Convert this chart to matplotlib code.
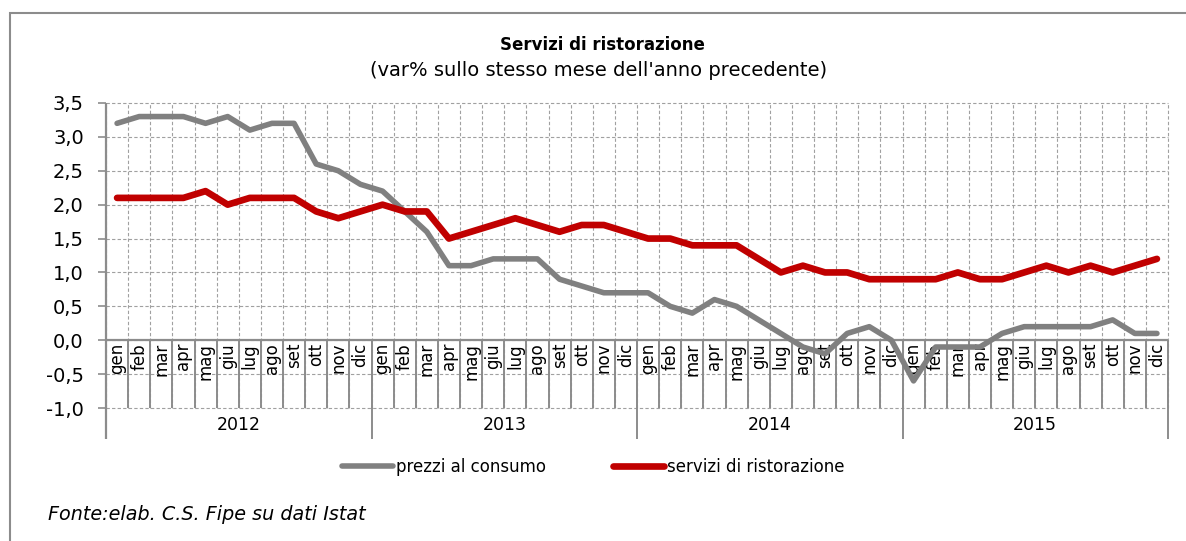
import numpy as np
import matplotlib
matplotlib.use('Agg')
import matplotlib.pyplot as plt
from matplotlib.patches import Rectangle
from matplotlib.ticker import FuncFormatter

# data (var% sullo stesso mese dell'anno precedente)
years = ['2012', '2013', '2014', '2015']
months = ['gen', 'feb', 'mar', 'apr', 'mag', 'giu', 'lug', 'ago', 'set', 'ott', 'nov', 'dic']

prezzi = [3.2, 3.3, 3.3, 3.3, 3.2, 3.3, 3.1, 3.2, 3.2, 2.6, 2.5, 2.3,
          2.2, 1.9, 1.6, 1.1, 1.1, 1.2, 1.2, 1.2, 0.9, 0.8, 0.7, 0.7,
          0.7, 0.5, 0.4, 0.6, 0.5, 0.3, 0.1, -0.1, -0.2, 0.1, 0.2, 0.0,
          -0.6, -0.1, -0.1, -0.1, 0.1, 0.2, 0.2, 0.2, 0.2, 0.3, 0.1, 0.1]
ristorazione = [2.1, 2.1, 2.1, 2.1, 2.2, 2.0, 2.1, 2.1, 2.1, 1.9, 1.8, 1.9,
                2.0, 1.9, 1.9, 1.5, 1.6, 1.7, 1.8, 1.7, 1.6, 1.7, 1.7, 1.6,
                1.5, 1.5, 1.4, 1.4, 1.4, 1.2, 1.0, 1.1, 1.0, 1.0, 0.9, 0.9,
                0.9, 0.9, 1.0, 0.9, 0.9, 1.0, 1.1, 1.0, 1.1, 1.0, 1.1, 1.2]

GRAY = '#808080'
RED = '#C00000'
AX_GRAY = '#8c8c8c'

plt.rcParams['font.family'] = 'DejaVu Sans'

fig = plt.figure(figsize=(11.86, 5.41), dpi=100)
ax = fig.add_axes([106/1186, 1-408/541, (1168-106)/1186, (408-103)/541])

n = len(prezzi)
x = np.arange(n)
bounds = np.arange(-0.5, n, 1.0)

ax.plot(x, prezzi, color=GRAY, lw=4, solid_joinstyle='round', solid_capstyle='round',
        label='prezzi al consumo', zorder=4)
ax.plot(x, ristorazione, color=RED, lw=4.8, solid_joinstyle='round', solid_capstyle='round',
        label='servizi di ristorazione', zorder=5)

ax.set_xlim(-0.5, n - 0.5)
ax.set_ylim(-1.0, 3.5)
ax.set_yticks(np.arange(-1.0, 3.51, 0.5))
ax.yaxis.set_major_formatter(FuncFormatter(lambda v, p: f'{v:.1f}'.replace('.', ',')))
ax.set_xticks(bounds)
ax.tick_params(axis='x', length=0, labelbottom=False)
ax.tick_params(axis='y', length=6, color=AX_GRAY, width=1.2, labelsize=14, pad=10)
ax.grid(True, ls=(0, (3, 2)), color='#a0a0a0', lw=0.8)
for gl in ax.get_xgridlines() + ax.get_ygridlines():
    gl.set_clip_on(False)
for s in ax.spines.values():
    s.set_visible(False)

# axis line at zero and solid category separators under it
ax.axhline(0, color=AX_GRAY, lw=1.6, zorder=3)
ax.vlines(bounds, -1.0, 0, color=AX_GRAY, lw=1.4, zorder=3)
seps = ax.vlines(bounds[::12].tolist() + [bounds[-1] + 1], -1.45, 0, color=AX_GRAY, lw=1.4, zorder=3)
seps.set_clip_on(False)
ax.vlines(-0.5, -1.45, 3.5, color=AX_GRAY, lw=1.6, zorder=3).set_clip_on(False)

for i in range(n):
    ax.text(x[i], -0.04, months[i % 12], rotation=90, ha='center', va='top', fontsize=12)
for k, yr in enumerate(years):
    ax.text(k * 12 + 5.5, -1.25, yr, ha='center', va='center', fontsize=12.5)

fig.legend(loc='center', bbox_to_anchor=(0.5, 1-467/541), ncol=2, frameon=False,
           fontsize=12, handlelength=3.1, handletextpad=0.15, columnspacing=4.0)

fig.text(0.508, 1-45/541, 'Servizi di ristorazione', ha='center', va='center',
         fontsize=12, fontweight='bold')
fig.text(0.505, 1-70/541, "(var% sullo stesso mese dell'anno precedente)", ha='center',
         va='center', fontsize=14)
fig.text(48/1186, 1-515/541, 'Fonte:elab. C.S. Fipe su dati Istat', ha='left', va='center',
         fontsize=13.8, style='italic')

fig.add_artist(Rectangle((10/1186, -0.1), 2, 1-13/541+0.1, transform=fig.transFigure,
                         fill=False, edgecolor=AX_GRAY, lw=1.5))

fig.savefig('out.png', dpi=100)
